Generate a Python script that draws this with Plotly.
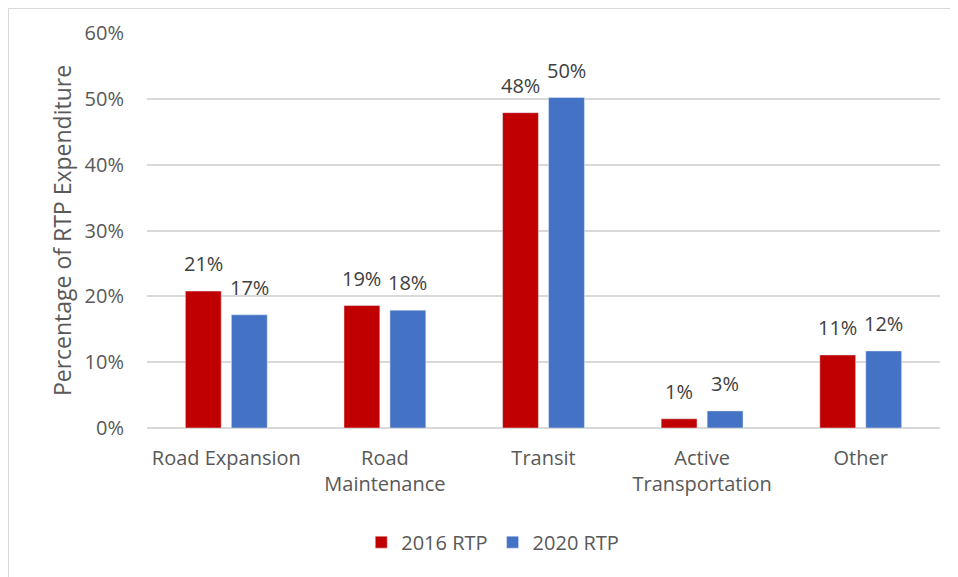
import plotly.graph_objects as go

categories = ['Road Expansion', 'Road<br>Maintenance', 'Transit', 'Active<br>Transportation', 'Other']
rtp_2016 = [0.208, 0.186, 0.479, 0.014, 0.111]
rtp_2020 = [0.172, 0.179, 0.502, 0.026, 0.117]

FONT = 'Open Sans'
GREY = '#595959'

fig = go.Figure()
fig.add_trace(go.Bar(x=categories, y=rtp_2016, name='2016 RTP', marker_color='#C00000'))
fig.add_trace(go.Bar(x=categories, y=rtp_2020, name='2020 RTP', marker_color='#4472C4'))

# value labels above each bar (offset to the bar centre within the group)
for vals, dx in ((rtp_2016, -23), (rtp_2020, 23)):
    for cat, v in zip(categories, vals):
        fig.add_annotation(x=cat, y=v, text=f'{v:.0%}', showarrow=False, xshift=dx,
                           yanchor='bottom', yshift=12, font=dict(size=20, color='#404040'))

# page has an 8px body margin, so layout is set 8px up/left of the target
W, H, L, T, R, B = 958, 577, 139, 25, 26, 157
pw, ph = W - L - R, H - T - B
bx = -L / pw
by = (ph + T) / ph
fig.add_shape(type='line', xref='paper', yref='paper', x0=bx, x1=bx, y0=-B / ph, y1=by,
              line=dict(color='#D9D9D9', width=2))
fig.add_shape(type='line', xref='paper', yref='paper', x0=bx, x1=(W - L) / pw, y0=by, y1=by,
              line=dict(color='#D9D9D9', width=2))

fig.update_layout(
    width=W, height=H,
    margin=dict(l=L, r=R, t=T, b=B, autoexpand=False),
    plot_bgcolor='white', paper_bgcolor='white',
    barmode='group', bargap=0.42, bargroupgap=0.22,
    font=dict(family=FONT, size=20, color=GREY),
    legend=dict(orientation='h', x=0.436, xanchor='center', y=-0.289, yanchor='middle',
                font=dict(size=20, color=GREY)),
)
fig.update_xaxes(automargin=False, showline=False, ticks='', ticklabelstandoff=16,
                 tickfont=dict(size=20, color=GREY))
fig.update_yaxes(automargin=False, range=[0, 0.6], dtick=0.1, tickformat='.0%', showgrid=True,
                 gridcolor='#D9D9D9', gridwidth=1.5, zeroline=True, zerolinecolor='#D9D9D9',
                 zerolinewidth=1.5, ticks='', ticklabelstandoff=22,
                 tickfont=dict(size=20, color=GREY),
                 title=dict(text='Percentage of RTP Expenditure', font=dict(size=23, color=GREY), standoff=6))

fig.write_html('out.html')
